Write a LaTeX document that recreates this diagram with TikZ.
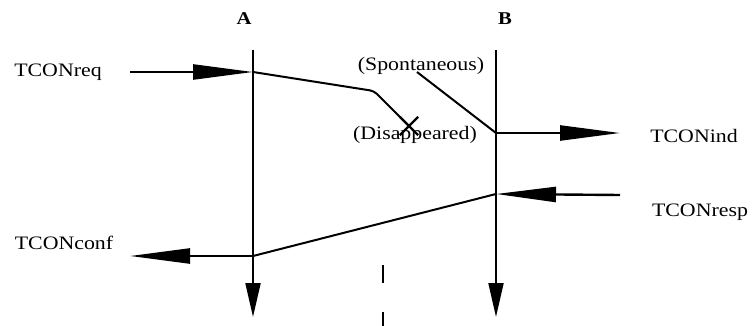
\documentclass[tikz,border=0pt]{standalone}
\usepackage{fontspec}
\setmainfont{Liberation Serif}[FakeStretch=1.15]
\usepackage{tikz}
\usetikzlibrary{
  arrows.meta,
  positioning,
  shapes.misc
}
\tikzset{
    lifeline/.style={line width=2pt, -{Triangle[length=34pt, width=15pt]}},
    primitive/.style={line width=2.4pt, -{Triangle[length=60pt, width=15pt]}},
    message/.style={line width=2pt},
    primname/.style={font=\fontsize{19}{22}\selectfont},
    remark/.style={font=\fontsize{19}{22}\selectfont},
    entity/.style={font=\fontsize{18}{20}\selectfont\bfseries},
}

\begin{document}
\begin{tikzpicture}[x=1pt, y=-1pt]
            \useasboundingbox (0,0) rectangle (753,326);
            \node[entity] (labA) at (244,19) {A};
            \node[entity] (labB) at (505,19) {B};
            \coordinate (Atop) at (253,50);
            \coordinate (Abot) at (253,317);
            \coordinate (Btop) at (496,50);
            \coordinate (Bbot) at (496,317);
            \draw[lifeline] (Atop) -- (Abot);
            \draw[lifeline] (Btop) -- (Bbot);
            \node[primname] (req) at (58,72) {TCONreq};
            \node[primname] (ind) at (694,136) {TCONind};
            \node[primname] (resp) at (700,212) {TCONresp};
            \node[primname] (conf) at (64,243) {TCONconf};
            \node[remark] (spont) at (421,66) {(Spontaneous)};
            \node[remark] (disap) at (415,135) {(Disappeared)};
            \coordinate (reqin) at (130,72);
            \coordinate (reqA) at (253,72);
            \coordinate (bend) at (374,91);
            \node[cross out, draw, line width=2.4pt, minimum size=16pt, inner sep=0pt] (lost) at (409,126) {};
            \coordinate (spstart) at (417,72);
            \coordinate (indB) at (496,133);
            \coordinate (indout) at (620,133);
            \coordinate (respin) at (620,195);
            \coordinate (respB) at (496,194);
            \coordinate (confA) at (253,256);
            \coordinate (confout) at (130,256);
            \draw[primitive] (reqin) -- (reqA);
            \draw[message, rounded corners=4pt] (reqA) -- (bend) -- (lost.center);
            \draw[message] (spstart) -- (indB);
            \draw[primitive] (indB) -- (indout);
            \draw[primitive] (respin) -- (respB);
            \draw[message] (respB) -- (confA);
            \draw[primitive] (confA) -- (confout);
            \coordinate (midtop) at (383,265);
            \coordinate (midbot) at (383,326);
            \draw[line width=2.5pt, dash pattern=on 18pt off 29pt] (midtop) -- (midbot);
        \end{tikzpicture}
\end{document}
